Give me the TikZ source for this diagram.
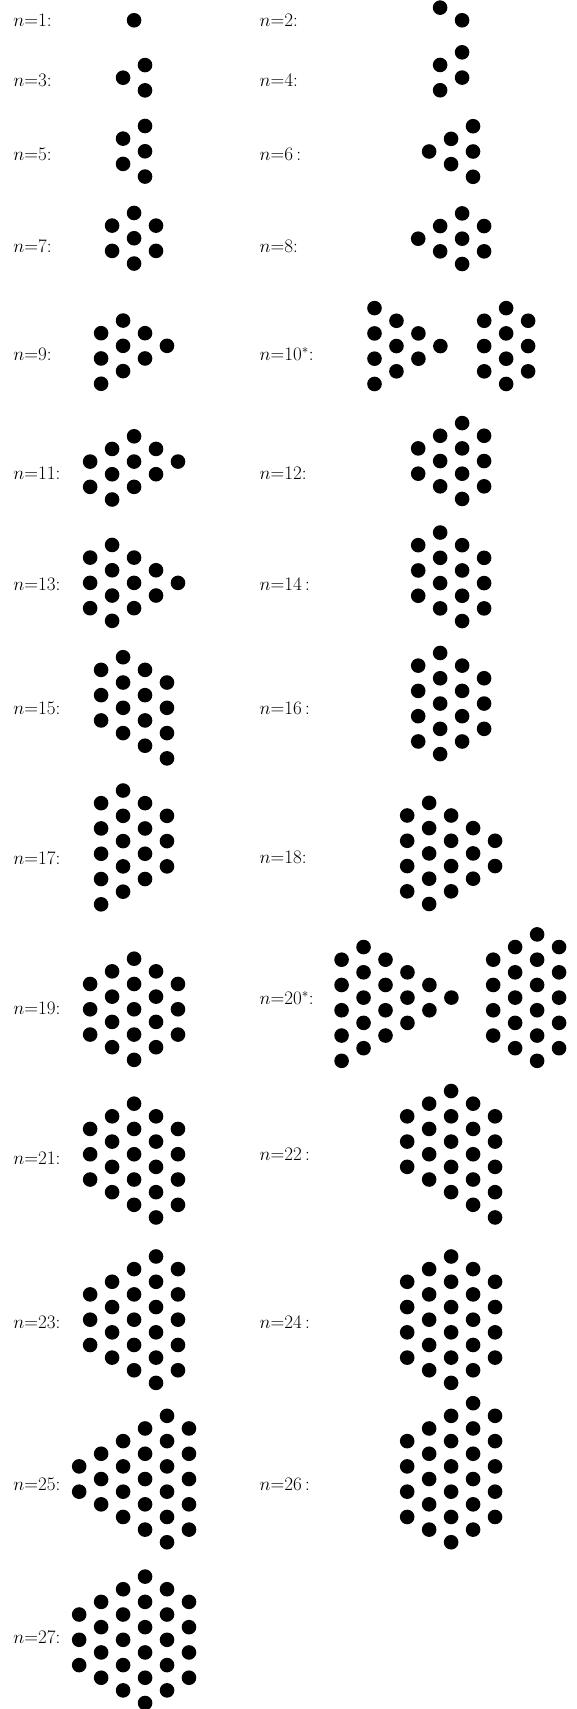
\documentclass[tikz,border=0pt]{standalone}
\begin{document}
\def\hh{20.15}
\def\vv{11.6}
\newcommand\hexcfg[3]{\foreach \ci/\ri in {#3} {\fill (#1+\ci*\hh, #2+\ri*\vv) circle[radius=6.7pt];}}
\begin{tikzpicture}[x=1pt,y=-1pt,
  lab/.style={anchor=west,inner sep=0pt,font=\fontsize{17.5}{20}\selectfont}]
\useasboundingbox (0,0) rectangle (529,1568);
% labels, left column
\node[lab] (l1)  at (12,18.3)   {$n$=1:};
\node[lab] (l3)  at (12,73.3)   {$n$=3:};
\node[lab] (l5)  at (12,142)    {$n$=5:};
\node[lab] (l7)  at (12,226)    {$n$=7:};
\node[lab] (l9)  at (12,325)    {$n$=9:};
\node[lab] (l11) at (12,434)    {$n$=11:};
\node[lab] (l13) at (12,536)    {$n$=13:};
\node[lab] (l15) at (12,650)    {$n$=15:};
\node[lab] (l17) at (12,787)    {$n$=17:};
\node[lab] (l19) at (12,925)    {$n$=19:};
\node[lab] (l21) at (12,1063)   {$n$=21:};
\node[lab] (l23) at (12,1213.3) {$n$=23:};
\node[lab] (l25) at (12,1361.5) {$n$=25:};
\node[lab] (l27) at (12,1502)   {$n$=27:};
% labels, right column
\node[lab] (l2)  at (238,18.3)   {$n$=2:};
\node[lab] (l4)  at (238,73.3)   {$n$=4:};
\node[lab] (l6)  at (238,142)    {$n$=6\,:};
\node[lab] (l8)  at (238,226)    {$n$=8:};
\node[lab] (l10) at (238,325)    {$n$=10$^*$:};
\node[lab] (l12) at (238,434)    {$n$=12:};
\node[lab] (l14) at (238,536)    {$n$=14\,:};
\node[lab] (l16) at (238,650)    {$n$=16\,:};
\node[lab] (l18) at (238,787)    {$n$=18:};
\node[lab] (l20) at (238,916)    {$n$=20$^*$:};
\node[lab] (l22) at (238,1059)   {$n$=22\,:};
\node[lab] (l24) at (238,1213.3) {$n$=24\,:};
\node[lab] (l26) at (238,1361.5) {$n$=26\,:};
% dot configurations
\hexcfg{123}{18.6}{0/0}
\hexcfg{403.8}{7}{0/0,1/1}
\hexcfg{112.9}{71.3}{0/0,1/-1,1/1}
\hexcfg{403.8}{59.6}{0/0,0/2,1/-1,1/1}
\hexcfg{112.9}{127.2}{0/0,0/2,1/-1,1/1,1/3}
\hexcfg{393.7}{139}{0/0,1/-1,1/1,2/-2,2/0,2/2}
\hexcfg{123}{218.6}{0/-2,0/0,0/2,-1/-1,-1/1,1/-1,1/1}
\hexcfg{424}{219}{0/-2,0/0,0/2,-1/-1,-1/1,1/-1,1/1,-2/0}
\hexcfg{112.9}{317.3}{-1/-1,-1/1,-1/3,0/-2,0/0,0/2,1/-1,1/1,2/0}
\hexcfg{343.6}{317.5}{0/-3,0/-1,0/1,0/3,1/-2,1/0,1/2,2/-1,2/1,3/0}
\hexcfg{464.4}{317.5}{0/-3,0/-1,0/1,0/3,-1/-2,-1/0,-1/2,1/-2,1/0,1/2}
\hexcfg{123}{423.5}{-2/0,-2/2,-1/-1,-1/1,-1/3,0/-2,0/0,0/2,1/-1,1/1,2/0}
\hexcfg{424}{423}{-2/-1,-2/1,-1/-2,-1/0,-1/2,0/-3,0/-1,0/1,0/3,1/-2,1/0,1/2}
\hexcfg{123}{534.8}{-2/-2,-2/0,-2/2,-1/-3,-1/-1,-1/1,-1/3,0/-2,0/0,0/2,1/-1,1/1,2/0}
\hexcfg{424}{535}{-2/-3,-2/-1,-2/1,-1/-4,-1/-2,-1/0,-1/2,0/-3,0/-1,0/1,0/3,1/-2,1/0,1/2}
\hexcfg{112.9}{649.4}{-1/-3,-1/-1,-1/1,0/-4,0/-2,0/0,0/2,1/-3,1/-1,1/1,1/3,2/-2,2/0,2/2,2/4}
\hexcfg{424}{645.5}{-2/-3,-2/-1,-2/1,-2/3,-1/-4,-1/-2,-1/0,-1/2,-1/4,0/-3,0/-1,0/1,0/3,1/-2,1/0,1/2}
\hexcfg{112.9}{771.7}{-1/-3,-1/-1,-1/1,-1/3,-1/5,0/-4,0/-2,0/0,0/2,0/4,1/-3,1/-1,1/1,1/3,2/-2,2/0,2/2}
\hexcfg{413.9}{783}{-2/-3,-2/-1,-2/1,-2/3,-1/-4,-1/-2,-1/0,-1/2,-1/4,0/-3,0/-1,0/1,0/3,1/-2,1/0,1/2,2/-1,2/1}
\hexcfg{123}{926}{0/-4,0/-2,0/0,0/2,0/4,-1/-3,-1/-1,-1/1,-1/3,1/-3,1/-1,1/1,1/3,-2/-2,-2/0,-2/2,2/-2,2/0,2/2}
\hexcfg{313.4}{915.3}{0/-3,0/-1,0/1,0/3,0/5,1/-4,1/-2,1/0,1/2,1/4,2/-3,2/-1,2/1,2/3,3/-2,3/0,3/2,4/-1,4/1,5/0}
\hexcfg{452.5}{915.3}{0/-3,0/-1,0/1,0/3,1/-4,1/-2,1/0,1/2,1/4,2/-5,2/-3,2/-1,2/1,2/3,2/5,3/-4,3/-2,3/0,3/2,3/4}
\hexcfg{123}{1059}{-2/-2,-2/0,-2/2,-1/-3,-1/-1,-1/1,-1/3,0/-4,0/-2,0/0,0/2,0/4,1/-3,1/-1,1/1,1/3,1/5,2/-2,2/0,2/2,2/4}
\hexcfg{413.9}{1059}{-2/-3,-2/-1,-2/1,-1/-4,-1/-2,-1/0,-1/2,0/-5,0/-3,0/-1,0/1,0/3,1/-4,1/-2,1/0,1/2,1/4,2/-3,2/-1,2/1,2/3,2/5}
\hexcfg{123}{1210.8}{-2/-2,-2/0,-2/2,-1/-3,-1/-1,-1/1,-1/3,0/-4,0/-2,0/0,0/2,0/4,1/-5,1/-3,1/-1,1/1,1/3,1/5,2/-4,2/-2,2/0,2/2,2/4}
\hexcfg{413.9}{1210.8}{-2/-3,-2/-1,-2/1,-2/3,-1/-4,-1/-2,-1/0,-1/2,-1/4,0/-5,0/-3,0/-1,0/1,0/3,0/5,1/-4,1/-2,1/0,1/2,1/4,2/-3,2/-1,2/1,2/3}
\hexcfg{133.1}{1357}{-3/-1,-3/1,-2/-2,-2/0,-2/2,-1/-3,-1/-1,-1/1,-1/3,0/-4,0/-2,0/0,0/2,0/4,1/-5,1/-3,1/-1,1/1,1/3,1/5,2/-4,2/-2,2/0,2/2,2/4}
\hexcfg{413.9}{1357}{-2/-3,-2/-1,-2/1,-2/3,-1/-4,-1/-2,-1/0,-1/2,-1/4,0/-5,0/-3,0/-1,0/1,0/3,0/5,1/-6,1/-4,1/-2,1/0,1/2,1/4,2/-5,2/-3,2/-1,2/1,2/3}
\hexcfg{133.1}{1504.5}{-3/-2,-3/0,-3/2,-2/-3,-2/-1,-2/1,-2/3,-1/-4,-1/-2,-1/0,-1/2,-1/4,0/-5,0/-3,0/-1,0/1,0/3,0/5,1/-4,1/-2,1/0,1/2,1/4,2/-3,2/-1,2/1,2/3}
\end{tikzpicture}
\end{document}
